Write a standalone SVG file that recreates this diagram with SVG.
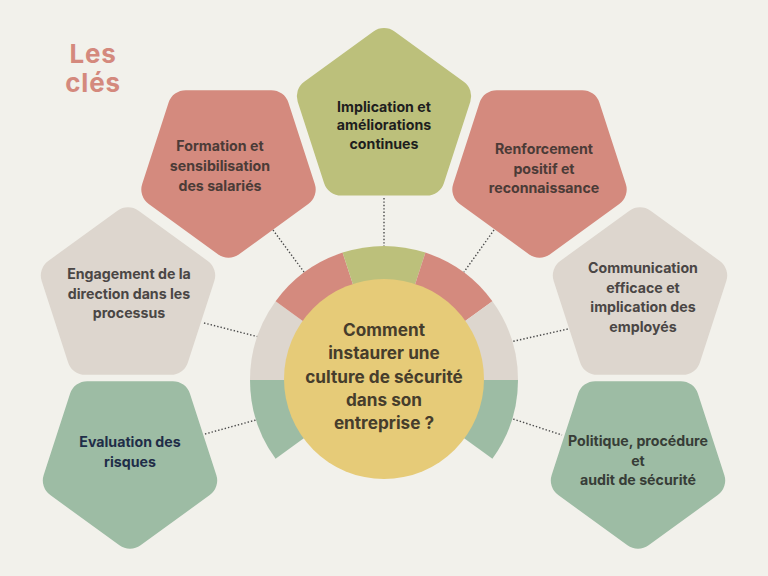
<svg xmlns="http://www.w3.org/2000/svg" xmlns:xlink="http://www.w3.org/1999/xlink" width="768" height="576" viewBox="0 0 768 576">
<style>
.t{font-family:Inter,"Open Sans","Liberation Sans",sans-serif;font-weight:700;font-size:14.2px;text-anchor:middle}
.c{font-family:Inter,"Open Sans","Liberation Sans",sans-serif;font-weight:700;font-size:17.2px;text-anchor:middle;fill:#463d2c}
.title{font-family:Inter,"Open Sans","Liberation Sans",sans-serif;font-weight:700;font-size:26px;letter-spacing:0.8px;text-anchor:middle;fill:#d4897d}
.salmon{fill:#d48a7e}.olive{fill:#bcc07b}.beige{fill:#ddd6ce}.sage{fill:#9dbca4}
.dot{stroke:#4a4a4a;stroke-width:1.4;stroke-dasharray:1.4 2;fill:none}
</style>
<defs>
<path id="pent" d="M10.58,-87.31 L79.77,-37.05 A18,18 0 0 1 86.31,-16.92 L59.88,64.42 A18,18 0 0 1 42.76,76.86 L-42.76,76.86 A18,18 0 0 1 -59.88,64.42 L-86.31,-16.92 A18,18 0 0 1 -79.77,-37.05 L-10.58,-87.31 A18,18 0 0 1 10.58,-87.31 Z"/>
</defs>
<rect width="768" height="576" fill="#f2f1eb"/>
<g id="title"><text class="title" x="93" y="63">Les</text><text class="title" x="93" y="92">clés</text></g>
<g id="connectors">
<line class="dot" x1="384" y1="198" x2="384" y2="246"/>
<line class="dot" x1="273" y1="230" x2="304" y2="272"/>
<line class="dot" x1="494" y1="230" x2="464" y2="272"/>
<line class="dot" x1="204" y1="323" x2="259" y2="337"/>
<line class="dot" x1="205" y1="434" x2="256" y2="420"/>
<line class="dot" x1="510" y1="342" x2="568" y2="329"/>
<line class="dot" x1="510" y1="418" x2="562" y2="435"/>
</g>
<g id="ring">
<path class="sage" d="M384,380 L275.6,458.8 A134,134 0 0 1 250,380 Z"/>
<path class="beige" d="M384,380 L250,380 A134,134 0 0 1 275.6,301.2 Z"/>
<path class="salmon" d="M384,380 L275.6,301.2 A134,134 0 0 1 342.6,252.6 Z"/>
<path class="olive" d="M384,380 L342.6,252.6 A134,134 0 0 1 425.4,252.6 Z"/>
<path class="salmon" d="M384,380 L425.4,252.6 A134,134 0 0 1 492.4,301.2 Z"/>
<path class="beige" d="M384,380 L492.4,301.2 A134,134 0 0 1 518,380 Z"/>
<path class="sage" d="M384,380 L518,380 A134,134 0 0 1 492.4,458.8 Z"/>
</g>
<g id="center">
<circle cx="384" cy="379" r="100" fill="#e6cb78"/>
<text class="c" x="384" y="336">Comment</text>
<text class="c" x="384" y="359">instaurer une</text>
<text class="c" x="384" y="383">culture de sécurité</text>
<text class="c" x="384" y="406">dans son</text>
<text class="c" x="384" y="429">entreprise ?</text>
</g>
<g id="implication">
<use xlink:href="#pent" class="olive" transform="translate(384,118.75)"/>
<text class="t" fill="#1e1e1e" x="384" y="112">Implication et</text>
<text class="t" fill="#1e1e1e" x="384" y="130">améliorations</text>
<text class="t" fill="#1e1e1e" x="384" y="149">continues</text>
</g>
<g id="formation">
<use xlink:href="#pent" class="salmon" transform="translate(228.5,167) rotate(180)"/>
<text class="t" fill="#4b3b37" x="220" y="151">Formation et</text>
<text class="t" fill="#4b3b37" x="220" y="171">sensibilisation</text>
<text class="t" fill="#4b3b37" x="220" y="191">des salariés</text>
</g>
<g id="renforcement">
<use xlink:href="#pent" class="salmon" transform="translate(539.5,167) rotate(180)"/>
<text class="t" fill="#4b3b37" x="544" y="154">Renforcement</text>
<text class="t" fill="#4b3b37" x="544" y="174">positif et</text>
<text class="t" fill="#4b3b37" x="544" y="193">reconnaissance</text>
</g>
<g id="engagement">
<use xlink:href="#pent" class="beige" transform="translate(128,298)"/>
<text class="t" fill="#4a4645" x="129" y="279">Engagement de la</text>
<text class="t" fill="#4a4645" x="129" y="299">direction dans les</text>
<text class="t" fill="#4a4645" x="129" y="318">processus</text>
</g>
<g id="communication">
<use xlink:href="#pent" class="beige" transform="translate(640,298)"/>
<text class="t" fill="#4a4645" x="643" y="273">Communication</text>
<text class="t" fill="#4a4645" x="643" y="293">efficace et</text>
<text class="t" fill="#4a4645" x="643" y="312">implication des</text>
<text class="t" fill="#4a4645" x="643" y="332">employés</text>
</g>
<g id="evaluation">
<use xlink:href="#pent" class="sage" transform="translate(130,458) rotate(180)"/>
<text class="t" fill="#1f2d48" x="130" y="447">Evaluation des</text>
<text class="t" fill="#1f2d48" x="130" y="467">risques</text>
</g>
<g id="politique">
<use xlink:href="#pent" class="sage" transform="translate(638,458) rotate(180)"/>
<text class="t" fill="#373d37" x="638" y="446">Politique, procédure</text>
<text class="t" fill="#373d37" x="638" y="466">et</text>
<text class="t" fill="#373d37" x="638" y="485">audit de sécurité</text>
</g>
</svg>
